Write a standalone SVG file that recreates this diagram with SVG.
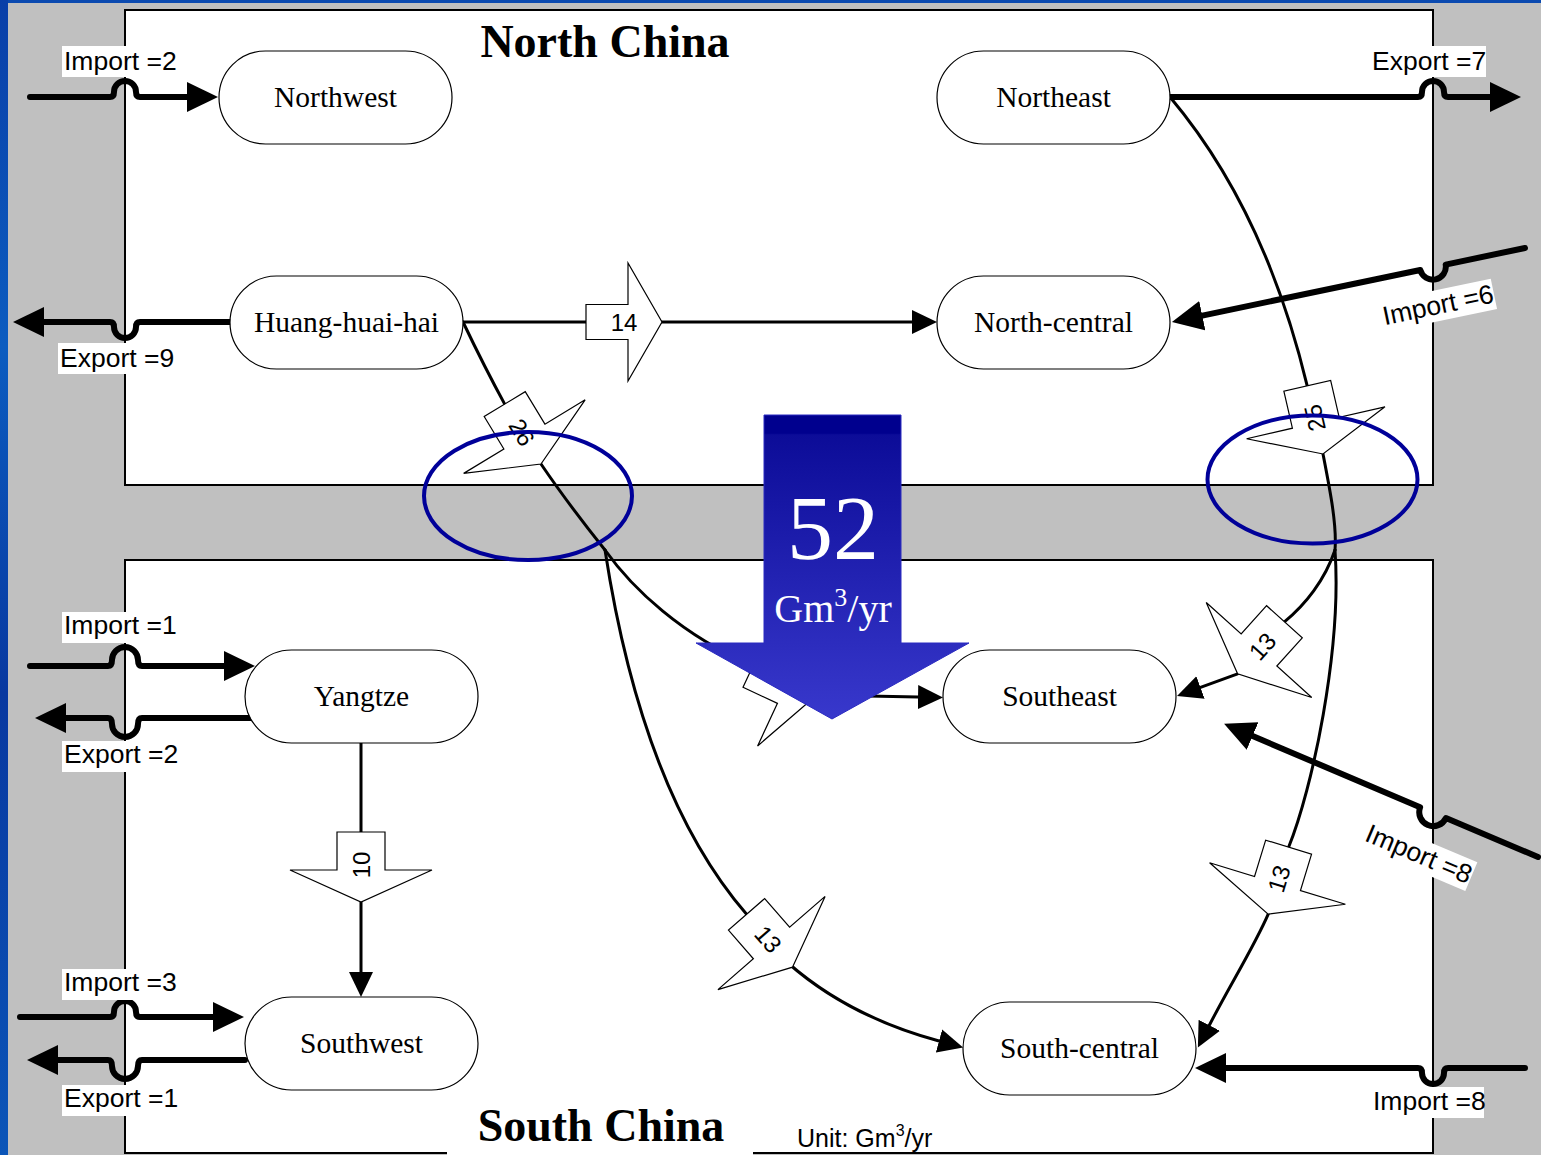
<svg xmlns="http://www.w3.org/2000/svg" xmlns:xlink="http://www.w3.org/1999/xlink" width="1541" height="1155" viewBox="0 0 1541 1155">
<style>
.node rect{fill:#fff;stroke:#000;stroke-width:1.2}
.node text{font-family:"Liberation Serif","Times New Roman",serif;font-size:29.5px;text-anchor:middle;fill:#000}
.thk{fill:none;stroke:#000;stroke-width:6;stroke-linecap:round;stroke-linejoin:round}
.thk.m{marker-end:url(#ah)}
.thn{fill:none;stroke:#000;stroke-width:3;stroke-linecap:round;stroke-linejoin:round}
.thn.m{marker-end:url(#at)}
.blk{fill:#fff;stroke:#000;stroke-width:1.2;stroke-linejoin:miter}
.num{font-family:"Liberation Sans",Arial,sans-serif;font-size:24px;text-anchor:middle;fill:#000}
.lbl rect{fill:#fff}
.lbl text{font-family:"Liberation Sans",Arial,sans-serif;font-size:26.5px;fill:#000}
.title{font-family:"Liberation Serif","Times New Roman",serif;font-size:46px;font-weight:bold;text-anchor:middle;fill:#000}
.ell{fill:none;stroke:#000099;stroke-width:4}
</style>
<defs>
<marker id="ah" markerUnits="userSpaceOnUse" markerWidth="33" markerHeight="32" viewBox="0 -16 33 32" refX="0" refY="0" orient="auto"><path d="M0,-15 L31,0 L0,15 Z" fill="#000"/></marker>
<marker id="at" markerUnits="userSpaceOnUse" markerWidth="27" markerHeight="26" viewBox="0 -13 27 26" refX="0" refY="0" orient="auto"><path d="M0,-12 L25,0 L0,12 Z" fill="#000"/></marker>
<path id="b" d="M-38,-24 H0 V-71 L32,0 L0,71 V24 H-38 Z"/>
<path id="b14" d="M-42,-17.5 H0 V-59 L34,0 L0,59 V17.5 H-42 Z"/>
<linearGradient id="g52" gradientUnits="userSpaceOnUse" x1="0" y1="415" x2="0" y2="719">
<stop offset="0" stop-color="#00008E"/><stop offset="0.06" stop-color="#00008E"/><stop offset="0.065" stop-color="#0C0C98"/><stop offset="1" stop-color="#3838CC"/>
</linearGradient>
<linearGradient id="gblue" x1="0" y1="0" x2="0" y2="1">
<stop offset="0" stop-color="#0A3FA8"/><stop offset="0.3" stop-color="#0B5CC0"/><stop offset="0.6" stop-color="#0838A0"/><stop offset="1" stop-color="#0B55B8"/>
</linearGradient>
</defs>

<g id="background">
<rect x="0" y="0" width="1541" height="1155" fill="#C0C0C0"/>
<rect x="0" y="0" width="1541" height="3" fill="#0B4AB0"/>
<rect x="0" y="0" width="8" height="1155" fill="url(#gblue)"/>
<rect x="125" y="10" width="1308" height="475" fill="#fff" stroke="#000" stroke-width="2"/>
<rect x="125" y="560" width="1308" height="593" fill="#fff" stroke="#000" stroke-width="2"/>
<rect x="447" y="1140" width="306" height="15" fill="#fff"/>
</g>

<g id="titles">
<text class="title" x="605" y="57">North China</text>
<text class="title" x="601" y="1141">South China</text>
<text x="797" y="1147" font-family="'Liberation Sans',Arial,sans-serif" font-size="25" fill="#000">Unit: Gm<tspan dy="-11" font-size="16">3</tspan><tspan dy="11">/yr</tspan></text>
</g>

<g id="connectors">
<path class="thk m" d="M30,97 H110 q4,0 4,-5 a11,11 0 0 1 22,0 q0,5 4,5 H187"/>
<path class="thk m" d="M1170,97 H1418 q4,0 4,-5 a11,11 0 0 1 22,0 q0,5 4,5 H1490"/>
<path class="thk m" d="M232,322 H140 q-4,0 -4,5 a11,11 0 0 1 -22,0 q0,-5 -4,-5 H44"/>
<path class="thk m" d="M1525,248 L1445.7,264.6 A13,13 0 0 1 1420.3,270 L1202.3,315.6"/>
<path class="thk m" d="M1538,857 L1445.9,818.1 A14,14 0 0 1 1420.1,807.3 L1252.6,736"/>
<path class="thk m" d="M1525,1068 H1448 q-4,0 -4,5 a11,11 0 0 1 -22,0 q0,-5 -4,-5 H1226"/>
<path class="thk m" d="M30,666 H108 q4,0 4,-6 a13,13 0 0 1 26,0 q0,6 4,6 H224"/>
<path class="thk m" d="M252,718 H142 q-4,0 -4,6 a13,13 0 0 1 -26,0 q0,-6 -4,-6 H66"/>
<path class="thk m" d="M20,1017 H110 q4,0 4,-5 a11,11 0 0 1 22,0 q0,5 4,5 H213"/>
<path class="thk m" d="M245,1060 H142 q-4,0 -4,6 a13,13 0 0 1 -26,0 q0,-6 -4,-6 H58"/>

<path class="thn m" d="M463,322 H912"/>
<path class="thn m" d="M361,743 V972"/>
<path class="thn" d="M463,322 Q485,368 504.7,404.1"/>
<path class="thn" d="M541,464 C560,492 585,525 605,550"/>
<path class="thn" d="M605,550 C632,588 682,636 753,665.5"/>
<path class="thn m" d="M816.6,695 L918,697"/>
<path class="thn" d="M605,550 C625,680 665,820 746.6,914.3"/>
<path class="thn m" d="M788,963 C830,1000 880,1025 939,1041"/>
<path class="thn" d="M1170,97 Q1265,210 1307.2,385.8"/>
<path class="thn" d="M1323,454 C1330,490 1337,525 1335,550"/>
<path class="thn" d="M1335,550 C1325,580 1305,605 1284.4,621.8"/>
<path class="thn m" d="M1237.6,673.8 L1200.5,687.4"/>
<path class="thn" d="M1335,550 C1342,650 1312,790 1288.6,847.2"/>
<path class="thn m" d="M1268.2,914.1 C1255,945 1230,985 1209.3,1025.3"/>
</g>

<g id="flow-labels">
<g transform="translate(628,322)"><use xlink:href="#b14" class="blk"/><text class="num" x="0" y="8.5" transform="translate(-4,0)">14</text></g>
<g transform="translate(524.4,436.6) rotate(58.8)"><use xlink:href="#b" class="blk"/><text class="num" x="0" y="8.5" transform="translate(-5,0)">26</text></g>
<g transform="translate(1315.8,422.8) rotate(77)"><use xlink:href="#b" class="blk"/><text class="num" x="0" y="8.5" transform="translate(-5,0) rotate(180)">25</text></g>
<g transform="translate(1259,650) rotate(132)"><use xlink:href="#b" class="blk"/><text class="num" x="0" y="8.5" transform="translate(-5,0) rotate(180)">13</text></g>
<g transform="translate(1277.5,883.5) rotate(107)"><use xlink:href="#b" class="blk"/><text class="num" x="0" y="8.5" transform="translate(-5,0) rotate(180)">13</text></g>
<g transform="translate(771.5,943) rotate(49)"><use xlink:href="#b" class="blk"/><text class="num" x="0" y="8.5" transform="translate(-5,0)">13</text></g>
<g transform="translate(361,870) rotate(90)"><use xlink:href="#b" class="blk"/><text class="num" x="0" y="8.5" transform="translate(-5,0) rotate(180)">10</text></g>
<g transform="translate(787.6,681.6) rotate(25)"><use xlink:href="#b" class="blk"/></g>
</g>

<g id="nodes">
<g id="northwest" class="node"><rect x="219" y="51" width="233" height="93" rx="46.5"/><text x="335.5" y="107">Northwest</text></g>
<g id="northeast" class="node"><rect x="937" y="51" width="233" height="93" rx="46.5"/><text x="1053.5" y="107">Northeast</text></g>
<g id="huang-huai-hai" class="node"><rect x="230" y="276" width="233" height="93" rx="46.5"/><text x="346.5" y="332">Huang-huai-hai</text></g>
<g id="north-central" class="node"><rect x="937" y="276" width="233" height="93" rx="46.5"/><text x="1053.5" y="332">North-central</text></g>
<g id="yangtze" class="node"><rect x="245" y="650" width="233" height="93" rx="46.5"/><text x="361.5" y="706">Yangtze</text></g>
<g id="southeast" class="node"><rect x="943" y="650" width="233" height="93" rx="46.5"/><text x="1059.5" y="706">Southeast</text></g>
<g id="southwest" class="node"><rect x="245" y="997" width="233" height="93" rx="46.5"/><text x="361.5" y="1053">Southwest</text></g>
<g id="south-central" class="node"><rect x="963" y="1002" width="233" height="93" rx="46.5"/><text x="1079.5" y="1058">South-central</text></g>
</g>

<g id="total-flow">
<path d="M764,415 H901 V643 H969 L832,719 L696,643 H764 Z" fill="url(#g52)" stroke="#2A2AC0" stroke-width="1"/>
<text x="833" y="559" font-family="'Liberation Serif','Times New Roman',serif" font-size="92" fill="#fff" text-anchor="middle">52</text>
<text x="833" y="622" font-family="'Liberation Serif','Times New Roman',serif" font-size="40" fill="#fff" text-anchor="middle">Gm<tspan dy="-16" font-size="26">3</tspan><tspan dy="16">/yr</tspan></text>
</g>

<g id="highlights">
<ellipse class="ell" cx="528" cy="496" rx="104" ry="64"/>
<ellipse class="ell" cx="1312.5" cy="479.5" rx="105" ry="64"/>
</g>

<g id="trade-labels">
<g class="lbl"><rect x="62" y="46" width="116" height="31"/><text x="64" y="70">Import =2</text></g>
<g class="lbl"><rect x="1370" y="46" width="116" height="31"/><text x="1372" y="70">Export =7</text></g>
<g class="lbl"><rect x="58" y="343" width="116" height="31"/><text x="60" y="367">Export =9</text></g>
<g class="lbl"><rect x="62" y="612" width="116" height="31"/><text x="64" y="634">Import =1</text></g>
<g class="lbl"><rect x="62" y="741" width="116" height="31"/><text x="64" y="763">Export =2</text></g>
<g class="lbl"><rect x="62" y="969" width="116" height="31"/><text x="64" y="991">Import =3</text></g>
<g class="lbl"><rect x="62" y="1085" width="116" height="31"/><text x="64" y="1107">Export =1</text></g>
<g class="lbl"><rect x="1371" y="1087" width="113" height="31"/><text x="1373" y="1110">Import =8</text></g>
<g class="lbl" transform="translate(1438,305) rotate(-11.8)"><rect x="-57" y="-15" width="114" height="31"/><text x="0" y="9" text-anchor="middle">Import =6</text></g>
<g class="lbl" transform="translate(1419,854) rotate(22.9)"><rect x="-57" y="-15" width="114" height="31"/><text x="0" y="9" text-anchor="middle">Import =8</text></g>
</g>
</svg>
